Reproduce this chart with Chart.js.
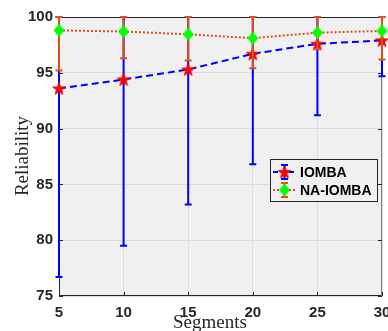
<!DOCTYPE html>
<html>
<head>
<meta charset="utf-8">
<script src="https://cdn.jsdelivr.net/npm/chart.js@4.4.0/dist/chart.umd.min.js"></script>
<style>
  html, body { margin: 0; padding: 0; background: #fff; }
</style>
</head>
<body>
<canvas id="chart" width="388" height="331"></canvas>
<script>
// values
const segments = [5, 10, 15, 20, 25, 30];
const iomba = [93.6, 94.4, 95.3, 96.7, 97.6, 97.9];
const iombaLow = [76.7, 79.5, 83.2, 86.8, 91.2, 94.7];
const iombaHigh = [100, 100, 100, 100, 100, 100];
const naIomba = [98.8, 98.7, 98.45, 98.1, 98.6, 98.75];
const naLow = [95.2, 96.3, 96.1, 95.4, 97.1, 96.2];
const naHigh = [100, 100, 100, 100, 100, 100];
const xTicks = [5, 10, 15, 20, 25, 30];
const yTicks = [75, 80, 85, 90, 95, 100];

const BLUE = '#0000ff';
const ORANGE = '#d95319';
const AXIS = '#262626';

// red pentagram marker
function makeStar(r) {
    const c = document.createElement('canvas');
    const s = Math.ceil(r * 2 + 2);
    c.width = s; c.height = s;
    const g = c.getContext('2d');
    g.beginPath();
    for (let i = 0; i < 10; i++) {
        const rad = i % 2 === 0 ? r : r * 0.4;
        const a = -Math.PI / 2 + i * Math.PI / 5;
        const px = s / 2 + rad * Math.cos(a);
        const py = s / 2 + 0.6 + rad * Math.sin(a);
        if (i === 0) g.moveTo(px, py); else g.lineTo(px, py);
    }
    g.closePath();
    g.fillStyle = '#ff0000';
    g.fill();
    g.strokeStyle = '#e00000';
    g.lineWidth = 0.8;
    g.stroke();
    return c;
}

// green diamond marker, a bit taller than wide
function makeDiamond(w, h) {
    const c = document.createElement('canvas');
    c.width = w + 2; c.height = h + 2;
    const g = c.getContext('2d');
    const cx = c.width / 2, cy = c.height / 2;
    g.beginPath();
    g.moveTo(cx, cy - h / 2);
    g.lineTo(cx + w / 2, cy);
    g.lineTo(cx, cy + h / 2);
    g.lineTo(cx - w / 2, cy);
    g.closePath();
    g.fillStyle = '#00ff00';
    g.fill();
    return c;
}

const starImg = makeStar(6.8);
const diamondImg = makeDiamond(11, 13);

const bars = [
    { low: iombaLow, high: iombaHigh, color: BLUE },
    { low: naLow, high: naHigh, color: ORANGE }
];

function drawErrorBar(ctx, x, yLo, yHi, color) {
    ctx.save();
    ctx.strokeStyle = color;
    ctx.lineWidth = 2;
    ctx.beginPath();
    ctx.moveTo(x, yLo); ctx.lineTo(x, yHi);
    ctx.moveTo(x - 3.5, yLo); ctx.lineTo(x + 3.5, yLo);
    ctx.moveTo(x - 3.5, yHi); ctx.lineTo(x + 3.5, yHi);
    ctx.stroke();
    ctx.restore();
}

const matlabLook = {
    id: 'matlabLook',
    beforeDraw(chart) {
        const { ctx, chartArea: a } = chart;
        ctx.save();
        ctx.fillStyle = '#f0f0f0';
        ctx.fillRect(a.left, a.top, a.right - a.left, a.bottom - a.top);
        ctx.restore();
    },
    beforeDatasetsDraw(chart) {
        const { ctx, chartArea: a, scales } = chart;
        ctx.save();
        // axes box
        ctx.strokeStyle = AXIS;
        ctx.lineWidth = 1;
        ctx.beginPath();
        ctx.moveTo(a.left + 0.5, a.top + 0.5);
        ctx.lineTo(a.right - 0.5, a.top + 0.5);
        ctx.moveTo(a.left + 0.5, a.top);
        ctx.lineTo(a.left + 0.5, a.bottom - 0.5);
        ctx.lineTo(a.right, a.bottom - 0.5);
        ctx.stroke();
        ctx.strokeStyle = '#808080';
        ctx.beginPath();
        ctx.moveTo(a.right - 0.5, a.top);
        ctx.lineTo(a.right - 0.5, a.bottom);
        ctx.stroke();
        // inward ticks
        ctx.strokeStyle = AXIS;
        ctx.beginPath();
        yTicks.forEach(v => {
            const y = Math.round(scales.y.getPixelForValue(v)) + 0.5;
            ctx.moveTo(a.left, y); ctx.lineTo(a.left + 4, y);
            ctx.moveTo(a.right, y); ctx.lineTo(a.right - 4, y);
        });
        xTicks.forEach(v => {
            const x = Math.round(scales.x.getPixelForValue(v)) + 0.5;
            ctx.moveTo(x, a.bottom); ctx.lineTo(x, a.bottom - 4);
            ctx.moveTo(x, a.top); ctx.lineTo(x, a.top + 4);
        });
        ctx.stroke();
        ctx.restore();
    },
    beforeDatasetDraw(chart, args) {
        const b = bars[args.index];
        const { ctx, scales } = chart;
        segments.forEach((s, i) => {
            drawErrorBar(ctx, scales.x.getPixelForValue(s),
                scales.y.getPixelForValue(b.low[i]),
                scales.y.getPixelForValue(b.high[i]), b.color);
        });
    },
    afterDraw(chart) {
        const { ctx } = chart;
        ctx.save();
        // axis titles
        ctx.fillStyle = AXIS;
        ctx.font = '19px "Liberation Serif", "Times New Roman", serif';
        ctx.textAlign = 'center';
        ctx.textBaseline = 'alphabetic';
        ctx.fillText('Segments', 210, 328);
        ctx.translate(28, 156);
        ctx.rotate(-Math.PI / 2);
        ctx.fillText('Reliability', 0, 0);
        ctx.restore();

        // legend
        ctx.save();
        ctx.fillStyle = '#f0f0f0';
        ctx.fillRect(270.5, 159.5, 107, 42);
        ctx.strokeStyle = AXIS;
        ctx.lineWidth = 1;
        ctx.strokeRect(270.5, 159.5, 107, 42);
        const entries = [
            { y: 172, label: 'IOMBA', color: BLUE, dash: [5, 3], img: starImg },
            { y: 190, label: 'NA-IOMBA', color: ORANGE, dash: [2, 2], img: diamondImg }
        ];
        entries.forEach(e => {
            ctx.strokeStyle = e.color;
            ctx.lineWidth = 2;
            ctx.setLineDash(e.dash);
            ctx.beginPath();
            ctx.moveTo(273, e.y); ctx.lineTo(296, e.y);
            ctx.stroke();
            ctx.setLineDash([]);
            drawErrorBar(ctx, 284.5, e.y + 7, e.y - 7, e.color);
            ctx.drawImage(e.img, 284.5 - e.img.width / 2, e.y - e.img.height / 2);
            ctx.fillStyle = '#000';
            ctx.font = 'bold 14px "Liberation Sans", Arial, sans-serif';
            ctx.textAlign = 'left';
            ctx.textBaseline = 'middle';
            ctx.fillText(e.label, 300, e.y + 1);
        });
        ctx.restore();
    }
};

const tickFont = { family: '"Liberation Sans", Arial, sans-serif', size: 15, weight: 'bold' };

new Chart(document.getElementById('chart'), {
    type: 'line',
    data: {
        datasets: [
            {
                label: 'IOMBA',
                data: segments.map((s, i) => ({ x: s, y: iomba[i] })),
                borderColor: BLUE,
                borderWidth: 2,
                borderDash: [7, 4],
                pointStyle: starImg,
                order: 2,
                clip: false
            },
            {
                label: 'NA-IOMBA',
                data: segments.map((s, i) => ({ x: s, y: naIomba[i] })),
                borderColor: ORANGE,
                borderWidth: 2,
                borderDash: [2, 2],
                pointStyle: diamondImg,
                order: 1,
                clip: false
            }
        ]
    },
    options: {
        responsive: false,
        animation: false,
        layout: { padding: { top: 17, right: 4, left: 0, bottom: 0 } },
        plugins: { legend: { display: false }, tooltip: { enabled: false } },
        scales: {
            x: {
                type: 'linear',
                min: 5, max: 30,
                afterBuildTicks: s => { s.ticks = xTicks.map(v => ({ value: v })); },
                afterFit: s => { s.height = 35; s.paddingLeft = 0; s.paddingRight = 0; },
                grid: { color: '#dcdcdc', drawTicks: false },
                border: { display: false },
                ticks: { font: tickFont, color: AXIS, padding: 8, maxRotation: 0 }
            },
            y: {
                min: 75, max: 100,
                afterBuildTicks: s => { s.ticks = yTicks.map(v => ({ value: v })); },
                afterFit: s => { s.width = 59; },
                grid: { color: '#dcdcdc', drawTicks: false },
                border: { display: false },
                ticks: { font: tickFont, color: AXIS, padding: 6 }
            }
        }
    },
    plugins: [matlabLook]
});
</script>
</body>
</html>
